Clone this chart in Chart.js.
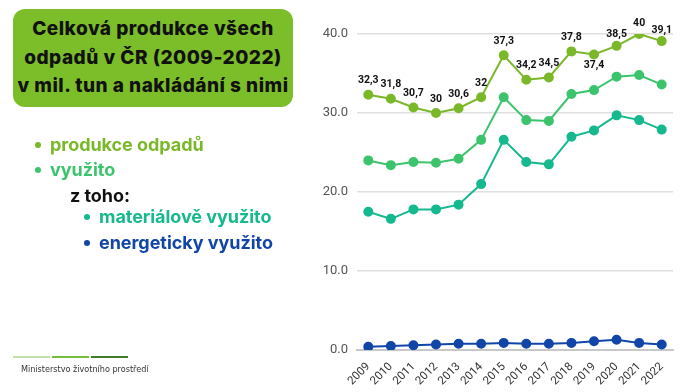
<!DOCTYPE html>
<html><head><meta charset="utf-8">
<script src="https://cdn.jsdelivr.net/npm/chart.js@4"></script>
<style>
html,body{margin:0;padding:0;background:#fff;width:700px;height:392px;overflow:hidden;font-family:Roboto,"Noto Sans",sans-serif;}
#wrap{position:relative;width:700px;height:392px;}
#c{position:absolute;left:0;top:0;}
#title{position:absolute;left:13px;top:9px;width:280px;height:98px;background:#7cbd2a;border-radius:12px;
 color:#111;font-family:Inter,Roboto,sans-serif;font-weight:800;font-size:19px;line-height:28.5px;text-align:center;padding-top:6px;box-sizing:border-box;letter-spacing:0.5px;white-space:nowrap;}
.lg{position:absolute;font-family:Inter,Roboto,sans-serif;font-weight:700;font-size:18px;white-space:nowrap;line-height:20px;letter-spacing:-0.05px;}
.dot{position:absolute;width:6px;height:6px;border-radius:50%;}
#foot{position:absolute;left:21px;top:364px;font-size:9px;color:#333;font-family:"Liberation Sans Narrow","DejaVu Sans Condensed",sans-serif;}
.bar{position:absolute;top:356px;height:2px;width:37px;}
</style></head><body>
<div id="wrap">
<canvas id="c" width="700" height="392"></canvas>
<div id="title">Celková produkce všech<br>odpadů v ČR (2009-2022)<br>v mil. tun a nakládání s nimi</div>
<div class="dot" style="left:35px;top:142px;background:#7ab829"></div>
<div class="lg" style="left:50px;top:135px;color:#7ab829">produkce odpadů</div>
<div class="dot" style="left:35px;top:167px;background:#3cc46d"></div>
<div class="lg" style="left:50px;top:160px;color:#3cc46d">využito</div>
<div class="lg" style="left:70px;top:186px;color:#111">z toho:</div>
<div class="dot" style="left:84px;top:214px;background:#16b98e"></div>
<div class="lg" style="left:99px;top:207px;color:#16b98e">materiálově využito</div>
<div class="dot" style="left:84px;top:240px;background:#1245a8"></div>
<div class="lg" style="left:99px;top:233px;color:#1245a8">energeticky využito</div>
<div class="bar" style="left:13px;background:#c3e3a6"></div>
<div class="bar" style="left:52px;background:#76bf3c"></div>
<div class="bar" style="left:91px;background:#3f7f2a"></div>
<div id="foot">Ministerstvo životního prostředí</div>
</div>
<script>
const years = ['2009','2010','2011','2012','2013','2014','2015','2016','2017','2018','2019','2020','2021','2022'];
const produkce = [32.3,31.8,30.7,30,30.6,32,37.3,34.2,34.5,37.8,37.4,38.5,40,39.1];
const vyuzito = [24.0,23.4,23.8,23.7,24.2,26.6,32.0,29.1,29.0,32.4,32.9,34.6,34.8,33.6];
const materialove = [17.5,16.6,17.8,17.8,18.4,21.0,26.6,23.8,23.5,27.0,27.8,29.7,29.1,27.9];
const energeticky = [0.4,0.5,0.6,0.7,0.8,0.8,0.9,0.8,0.8,0.9,1.1,1.3,0.9,0.7];
const yTicks = [0,10,20,30,40];

const labelPlugin = {
  id:'vals',
  afterDatasetsDraw(chart){
    const ctx = chart.ctx;
    const meta = chart.getDatasetMeta(0);
    ctx.save();
    ctx.font = 'bold 10.5px Roboto, sans-serif';
    ctx.fillStyle = '#111';
    ctx.textAlign = 'center';
    ctx.textBaseline = 'middle';
    meta.data.forEach((pt,i)=>{
      const v = produkce[i];
      const txt = String(v).replace('.',',');
      const below = (i===10);
      const dy = below ? 11 : (v>=38 ? -11 : -14);
      ctx.fillText(txt, pt.x, pt.y + dy);
    });
    ctx.restore();
  }
};

function ds(data,color){
  return {data, borderColor:color, backgroundColor:color, pointBackgroundColor:color, pointBorderColor:color,
    borderWidth:2, pointRadius:4, pointHoverRadius:4, tension:0, fill:false};
}

new Chart(document.getElementById('c'),{
  type:'line',
  data:{labels:years, datasets:[
    ds(produkce,'#7ab829'),
    ds(vyuzito,'#3cc46d'),
    ds(materialove,'#16b98e'),
    ds(energeticky,'#1245a8')
  ]},
  options:{
    responsive:false, animation:false,
    layout:{padding:{left:300,right:27,top:34,bottom:0}},
    plugins:{legend:{display:false},tooltip:{enabled:false}},
    scales:{
      x:{
        offset:true,
        grid:{display:false},
        border:{color:'#c8c8c8',width:2},
        ticks:{color:'#333',font:{size:11.5,family:'Roboto'},minRotation:45,maxRotation:45,padding:2,autoSkip:false},
        afterFit(s){s.height=42;}
      },
      y:{
        min:0,max:40,
        afterBuildTicks(s){s.ticks = yTicks.map(v=>({value:v}));},
        grid:{color:'#e0e0e0',drawTicks:false,lineWidth:1.5},
        border:{display:false},
        ticks:{color:'#555',font:{size:13,family:'Roboto'},padding:9,callback:v=>Number(v).toFixed(1)},
        afterFit(s){s.width=57;}
      }
    }
  },
  plugins:[labelPlugin]
});
</script>
</body></html>
